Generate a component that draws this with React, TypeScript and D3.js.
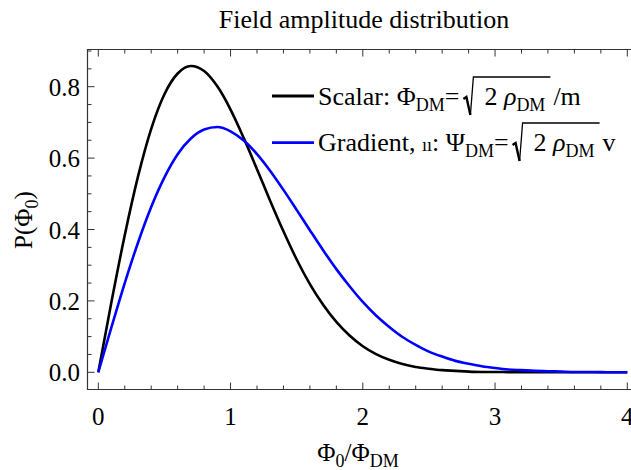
import React, { useLayoutEffect, useRef, useState } from "react";
import * as d3 from "d3";

const xValues = [0, 0.1, 0.2, 0.3, 0.4, 0.5, 0.6, 0.7, 0.8, 0.9, 1.0, 1.1, 1.2, 1.3, 1.4, 1.5, 1.6, 1.7, 1.8, 1.9, 2.0, 2.1, 2.2, 2.3, 2.4, 2.5, 2.6, 2.7, 2.8, 2.9, 3.0, 3.1, 3.2, 3.3, 3.4, 3.5, 3.6, 3.7, 3.8, 3.9, 4.0];
const scalarValues = [0, 0.198, 0.384, 0.548, 0.682, 0.779, 0.837, 0.858, 0.844, 0.801, 0.736, 0.656, 0.569, 0.48, 0.395, 0.316, 0.247, 0.189, 0.141, 0.103, 0.073, 0.051, 0.035, 0.023, 0.015, 0.01, 0.006, 0.004, 0.002, 0.001, 0.001, 0.0005, 0.0002, 0.0001, 0, 0, 0, 0, 0, 0, 0];
const gradientValues = [0, 0.127, 0.25, 0.363, 0.463, 0.546, 0.611, 0.655, 0.68, 0.687, 0.675, 0.649, 0.611, 0.564, 0.511, 0.455, 0.398, 0.342, 0.289, 0.241, 0.197, 0.159, 0.127, 0.099, 0.077, 0.058, 0.044, 0.032, 0.024, 0.017, 0.012, 0.008, 0.006, 0.004, 0.003, 0.002, 0.001, 0.001, 0.0004, 0.0003, 0.0002];
const xTicks = [0, 1, 2, 3, 4];
const yTicks = [0, 0.2, 0.4, 0.6, 0.8];
const yTickLabels = ["0.0", "0.2", "0.4", "0.6", "0.8"];

const FONT = "'Liberation Serif', 'Times New Roman', serif";

function RadicalLabel({ x, y, fs, pre, inner, post }: any) {
  const preRef = useRef<SVGTextElement>(null);
  const innerRef = useRef<SVGTextElement>(null);
  const [w, setW] = useState({ pre: 0, inner: 0 });
  useLayoutEffect(() => {
    const p = preRef.current ? preRef.current.getComputedTextLength() : 0;
    const i = innerRef.current ? innerRef.current.getComputedTextLength() : 0;
    setW({ pre: p, inner: i });
  }, []);
  const rx = x + w.pre + 4;
  const ix = rx + 21;
  const ox = ix + w.inner + 5;
  const top = y - 28;
  return (
    <g fontFamily={FONT} fontSize={fs} fill="#000">
      <text ref={preRef} x={x} y={y}>{pre}</text>
      <path
        d={`M${rx},${y - 6} L${rx + 3},${y - 8} L${rx + 7},${y + 10}`}
        fill="none" stroke="#000" strokeWidth={2.4} strokeLinejoin="miter"
      />
      <path
        d={`M${rx + 7},${y + 10} L${rx + 10},${top} L${ox},${top}`}
        fill="none" stroke="#000" strokeWidth={1.3}
      />
      <text ref={innerRef} x={ix} y={y}>{inner}</text>
      <text x={ox + 3} y={y}>{post}</text>
    </g>
  );
}

export default function App() {
  const W = 631, H = 470;
  const left = 87.5, top = 49.5, bottom = 389.5, right = 660;
  const x = d3.scaleLinear().domain([0, 4]).range([98.3, 627.3]);
  const y = d3.scaleLinear().domain([0, 0.8]).range([372.3, 86.7]);
  const line = d3.line<number>()
    .x((_, i) => x(xValues[i]))
    .curve(d3.curveMonotoneX);
  const scalarPath = line.y((d) => y(d))(scalarValues) || "";
  const gradientPath = line.y((d) => y(d))(gradientValues) || "";

  const xMinor = d3.range(0, 4.001, 0.2).filter((v) => Math.abs(v - Math.round(v)) > 1e-6);
  const yMinor = d3.range(0, 0.9001, 0.05).filter((v) => Math.abs(v * 5 - Math.round(v * 5)) > 1e-6);
  const frame = "#333";
  const sub = 18;

  return (
    <svg width={W} height={H} style={{ position: "absolute", left: 0, top: 0 }} fontFamily={FONT}>
      <rect x={0} y={0} width={W} height={H} fill="#fff" />
      <text x={364} y={28} textAnchor="middle" fontSize={26}>Field amplitude distribution</text>

      {/* frame */}
      <path d={`M${right},${top} H${left} V${bottom} H${right}`} fill="none" stroke={frame} strokeWidth={1.2} />

      {/* x ticks */}
      {xTicks.map((t) => (
        <g key={"xt" + t}>
          <line x1={x(t)} x2={x(t)} y1={bottom} y2={bottom - 7} stroke={frame} strokeWidth={1} />
          <line x1={x(t)} x2={x(t)} y1={top} y2={top + 7} stroke={frame} strokeWidth={1} />
          <text x={x(t)} y={425} textAnchor="middle" fontSize={25}>{t}</text>
        </g>
      ))}
      {xMinor.map((t) => (
        <g key={"xm" + t}>
          <line x1={x(t)} x2={x(t)} y1={bottom} y2={bottom - 4} stroke={frame} strokeWidth={1} />
          <line x1={x(t)} x2={x(t)} y1={top} y2={top + 4} stroke={frame} strokeWidth={1} />
        </g>
      ))}

      {/* y ticks */}
      {yTicks.map((t, i) => (
        <g key={"yt" + t}>
          <line x1={left} x2={left + 7} y1={y(t)} y2={y(t)} stroke={frame} strokeWidth={1} />
          <text x={80} y={y(t) + 9} textAnchor="end" fontSize={25}>{yTickLabels[i]}</text>
        </g>
      ))}
      {yMinor.map((t) => (
        <line key={"ym" + t} x1={left} x2={left + 4} y1={y(t)} y2={y(t)} stroke={frame} strokeWidth={1} />
      ))}

      {/* curves */}
      <path d={scalarPath} fill="none" stroke="#000" strokeWidth={2.6} />
      <path d={gradientPath} fill="none" stroke="#0000ff" strokeWidth={2.6} />

      {/* legend */}
      <line x1={272} x2={314} y1={96} y2={96} stroke="#000" strokeWidth={2.8} />
      <line x1={272} x2={314} y1={142.7} y2={142.7} stroke="#0000ff" strokeWidth={2.8} />
      <RadicalLabel
        x={318} y={105} fs={26}
        pre={<>Scalar: Φ<tspan fontSize={sub} dy={6}>DM</tspan><tspan dy={-6}>=</tspan></>}
        inner={<>2 <tspan fontStyle="italic">ρ</tspan><tspan fontSize={sub} dy={6}>DM</tspan></>}
        post={"/m"}
      />
      <RadicalLabel
        x={318} y={151} fs={26}
        pre={<>Gradient, <tspan fontSize={18}>ıı</tspan><tspan>: Ψ</tspan><tspan fontSize={sub} dy={6}>DM</tspan><tspan dy={-6}>=</tspan></>}
        inner={<>2 <tspan fontStyle="italic">ρ</tspan><tspan fontSize={sub} dy={6}>DM</tspan></>}
        post={"v"}
      />

      {/* axis labels */}
      <text x={358} y={461} textAnchor="middle" fontSize={25}>
        Φ<tspan fontSize={sub} dy={6}>0</tspan><tspan dy={-6}>/Φ</tspan><tspan fontSize={sub} dy={6}>DM</tspan>
      </text>
      <text transform="translate(32,220) rotate(-90)" textAnchor="middle" fontSize={25}>
        P(Φ<tspan fontSize={sub} dy={6}>0</tspan><tspan dy={-6}>)</tspan>
      </text>
    </svg>
  );
}
